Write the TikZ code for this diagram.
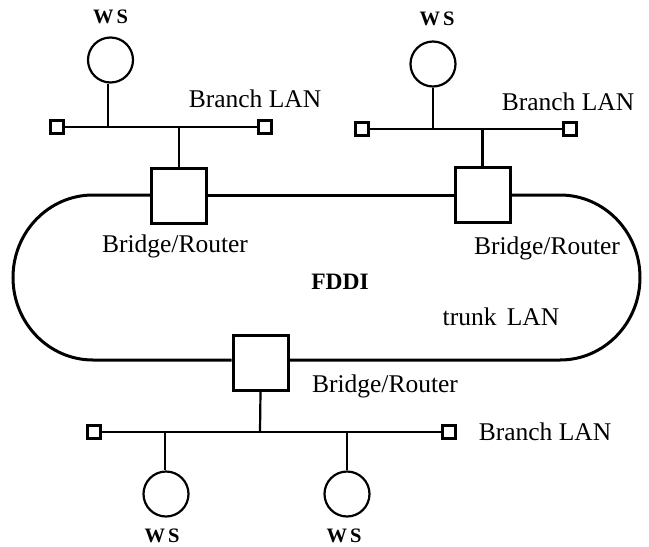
\documentclass[tikz,border=0pt]{standalone}
\usepackage{fontspec}
\usetikzlibrary{shapes.geometric}
\setmainfont{Liberation Serif}
\tikzset{
  ring/.style={line width=3pt},
  bus/.style={line width=2.2pt},
  brbox/.style={draw, line width=3pt, fill=white, minimum size=55pt, inner sep=0pt},
  term/.style={draw, line width=2.6pt, fill=white, minimum size=13pt, inner sep=0pt},
  ws/.style={draw, line width=2.2pt, circle, minimum size=45pt, inner sep=0pt},
  wslbl/.style={font=\fontsize{20.5}{22}\selectfont\bfseries, inner sep=0pt},
  lbl/.style={font=\fontsize{25.5}{28}\selectfont, inner sep=0pt, anchor=base}
}
\begin{document}
\begin{tikzpicture}[x=1pt,y=-1pt]
\useasboundingbox (0,0) rectangle (649,547);
% boxes on the ring
\node[brbox] (tl) at (179,196) {};
\node[brbox] (tr) at (482.5,195) {};
\node[brbox] (bb) at (260.5,363) {};
\coordinate (rtr) at (560,195);
\coordinate (rbl) at (93,360);
\draw[ring] (tl.east |- 0,195) -- (tr.west |- 0,195);
\draw[ring] (tr.east |- 0,195) -- (rtr) arc[start angle=-90, end angle=90, x radius=80, y radius=82.5] -- (bb.east |- rbl);
\draw[ring] (bb.west |- rbl) -- (rbl) arc[start angle=90, end angle=270, x radius=80, y radius=82.5] -- (tl.west |- 0,195);
\node[brbox] at (tl) {};
\node[brbox] at (tr) {};
\node[brbox] at (bb) {};
% top-left branch
\node[term] (a1) at (57,127) {};
\node[term] (a2) at (265,127) {};
\draw[bus] (a1) -- (a2);
\node[ws] (w1) at (110.5,60) {};
\coordinate (w1b) at (108,127);
\draw[bus] (w1.south -| w1b) -- (w1b);
\coordinate (a3) at (179,127);
\draw[bus] (a3) -- (tl.north);
% top-right branch
\node[term] (b1) at (362,129) {};
\node[term] (b2) at (570,129) {};
\draw[bus] (b1) -- (b2);
\node[ws] (w2) at (433,64) {};
\coordinate (w2b) at (433,129);
\draw[bus] (w2.south) -- (w2b);
\coordinate (b3) at (482.5,129);
\draw[bus] (b3) -- (tr.north);
% bottom branch
\node[term] (c1) at (94,432) {};
\node[term] (c2) at (449,432) {};
\draw[bus] (c1) -- (c2);
\coordinate (c3) at (260,432);
\draw[bus] (bb.south) -- (c3);
\node[ws] (w3) at (166,494) {};
\node[ws] (w4) at (347,494) {};
\coordinate (w3t) at (165,432);
\coordinate (w4t) at (347,432);
\draw[bus] (w3t) -- (w3.north -| w3t);
\draw[bus] (w4t) -- (w4.north);
% labels
\node[wslbl] (l1) at (110.5,17) {W\kern3pt S};
\node[wslbl] (l2) at (437,19) {W\kern3pt S};
\node[wslbl] (l3) at (162,536) {W\kern3pt S};
\node[wslbl] (l4) at (344,536) {W\kern3pt S};
\node[lbl] (n1) at (255,107) {Branch LAN};
\node[lbl] (n2) at (568,110) {Branch LAN};
\node[lbl] (n3) at (545,440) {Branch LAN};
\node[lbl] (r1) at (175,252) {Bridge/Router};
\node[lbl] (r2) at (547,254) {Bridge/Router};
\node[lbl] (r3) at (385,392) {Bridge/Router};
\node[lbl, font=\fontsize{23.5}{26}\selectfont\bfseries] (f) at (340,289) {FDDI};
\node[lbl] (t) at (501,325) {trunk\kern4pt\ LAN};
\end{tikzpicture}
\end{document}
